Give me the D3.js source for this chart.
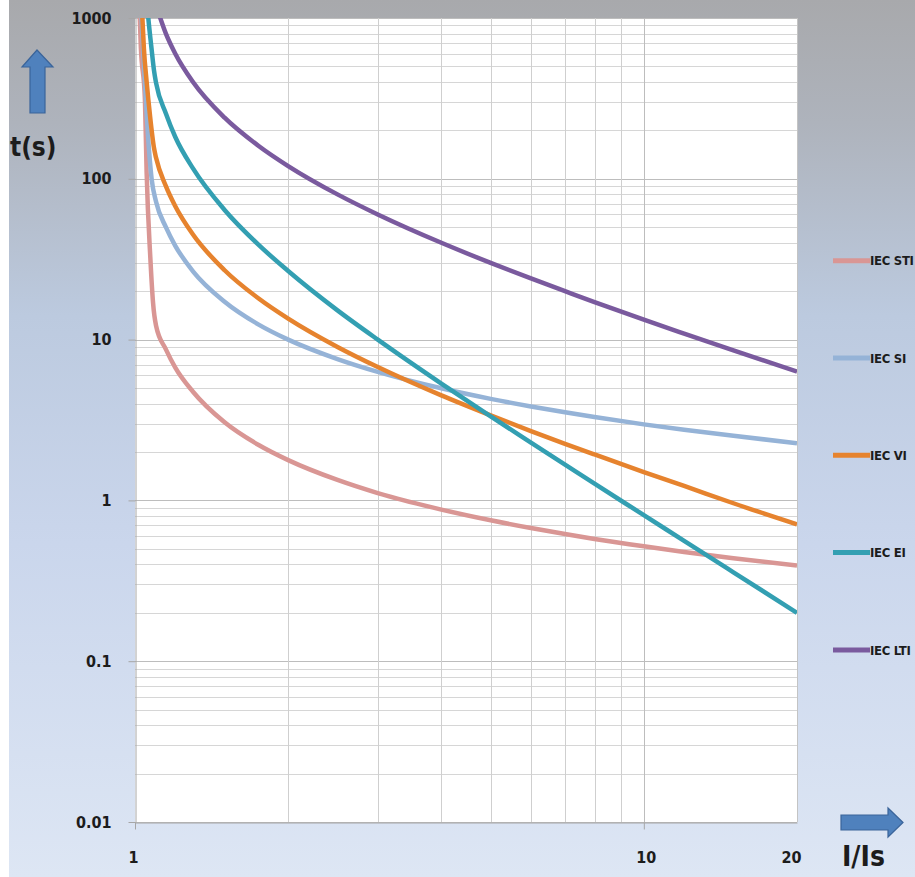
<!DOCTYPE html>
<html>
<head>
<meta charset="utf-8">
<script src="https://cdn.jsdelivr.net/npm/d3@7"></script>
<style>
  html, body { margin: 0; padding: 0; background: #fff; }
  svg { display: block; }
  .tick text { font-family: "Liberation Sans Narrow", "DejaVu Sans Condensed", sans-serif; font-weight: bold; fill: #1c1c1c; }
</style>
</head>
<body>
<svg id="chart" width="915" height="877"></svg>
<script>
// I/Is steps shared by every curve from 1.1 upward
const currentSteps = [1.1, 1.15, 1.2, 1.3, 1.5, 1.75, 2, 2.5, 3, 4, 5, 6, 7, 8, 10, 12, 15, 20];

// steep part of each curve just above I/Is = 1, as [I/Is, t]
const stiHead = [[1.017, 1500], [1.027, 650], [1.046, 309], [1.054, 110], [1.072, 32], [1.085, 17]];
const siHead = [[1.02, 2000], [1.03, 1000], [1.045, 420], [1.06, 190], [1.078, 100]];
const viHead = [[1.025, 1500], [1.034, 1000], [1.041, 648], [1.054, 402], [1.07, 249], [1.09, 155]];
const eiHead = [[1.05, 1500], [1.062, 1000], [1.078, 640], [1.09, 470]];
const ltiHead = [];

// t(s) read at currentSteps
const stiTimes = [12.2, 8.7, 6.7, 4.74, 3.06, 2.21, 1.78, 1.34, 1.11, 0.877, 0.752, 0.673, 0.618, 0.576, 0.518, 0.478, 0.437, 0.393];
const siTimes = [72, 50, 38.3, 26.6, 17.2, 12.4, 10.0, 7.57, 6.3, 4.98, 4.28, 3.84, 3.53, 3.3, 2.97, 2.75, 2.52, 2.27];
const viTimes = [135, 90, 67.5, 45, 27, 18, 13.5, 9, 6.75, 4.5, 3.38, 2.7, 2.25, 1.93, 1.5, 1.23, 0.96, 0.71];
const eiTimes = [395, 255, 182, 116, 64, 38.8, 26.7, 15.2, 10, 5.33, 3.33, 2.29, 1.67, 1.27, 0.81, 0.56, 0.357, 0.2];
const ltiTimes = [1200, 800, 600, 400, 240, 160, 120, 80, 60, 40, 30, 24, 20, 17.1, 13.3, 10.9, 8.57, 6.32];

const seriesNames = ["IEC STI", "IEC SI", "IEC VI", "IEC EI", "IEC LTI"];
const seriesColors = ["#d99694", "#95b3d7", "#e6832e", "#339fb2", "#7a5a9e"];

const yTicks = [0.01, 0.1, 1, 10, 100, 1000];
const xTicks = [1, 10, 20];

const svg = d3.select("#chart");
const W = 915, H = 877;
const plot = { left: 135, right: 797, top: 18, bottom: 822 };
const narrow = "\"Liberation Sans Narrow\", \"DejaVu Sans Condensed\", sans-serif";

const x = d3.scaleLog().domain([1, 20]).range([plot.left, plot.right]);
const y = d3.scaleLog().domain([0.01, 1000]).range([plot.bottom, plot.top]);

// background gradient
const defs = svg.append("defs");
const grad = defs.append("linearGradient").attr("id", "bg").attr("x1", 0).attr("y1", 0).attr("x2", 0).attr("y2", 1);
[[0, "#a8a9ac"], [0.14, "#aeb3bc"], [0.36, "#bccadf"], [0.62, "#cad6ec"], [1, "#dde6f4"]].forEach(([o, c]) => {
  grad.append("stop").attr("offset", o).attr("stop-color", c);
});
defs.append("clipPath").attr("id", "plotClip").append("rect")
  .attr("x", plot.left).attr("y", plot.top)
  .attr("width", plot.right - plot.left).attr("height", plot.bottom - plot.top);

svg.append("rect").attr("x", 9).attr("y", 0).attr("width", W - 9).attr("height", H).attr("fill", "url(#bg)");
svg.append("rect").attr("x", plot.left).attr("y", plot.top)
  .attr("width", plot.right - plot.left).attr("height", plot.bottom - plot.top).attr("fill", "#fff");

// grid
const hValues = [];
yTicks.slice(0, -1).forEach((d) => { for (let m = 1; m < 10; m += 1) hValues.push(d * m); });
hValues.push(1000);
const vValues = [2, 3, 4, 5, 6, 7, 8, 9, 10];

const grid = svg.append("g");
grid.selectAll(".h").data(hValues).join("line")
  .attr("x1", plot.left).attr("x2", plot.right)
  .attr("y1", (d) => Math.round(y(d)) + 0.5).attr("y2", (d) => Math.round(y(d)) + 0.5)
  .attr("stroke", (d) => (yTicks.includes(d) ? "#bdbdbd" : "#d6d6d6")).attr("stroke-width", 1);
grid.selectAll(".v").data(vValues).join("line")
  .attr("y1", plot.top).attr("y2", plot.bottom)
  .attr("x1", (d) => Math.round(x(d)) + 0.5).attr("x2", (d) => Math.round(x(d)) + 0.5)
  .attr("stroke", (d) => (d === 10 ? "#bdbdbd" : "#cfcfcf")).attr("stroke-width", 1);
svg.append("line").attr("x1", plot.right + 0.5).attr("x2", plot.right + 0.5)
  .attr("y1", plot.top).attr("y2", plot.bottom).attr("stroke", "#c4c4c4");

// axes
const yAxis = svg.append("g").attr("transform", `translate(${plot.left + 0.5},0)`)
  .call(d3.axisLeft(y).tickValues(yTicks).tickFormat(d3.format("~g")).tickSize(7).tickPadding(17).tickSizeOuter(0));
yAxis.selectAll("text").attr("font-size", 16);
yAxis.select(".domain").attr("stroke", "#a6a6a6");
yAxis.selectAll(".tick line").attr("stroke", "#a6a6a6");

const xAxis = svg.append("g").attr("transform", `translate(0,${plot.bottom + 0.5})`)
  .call(d3.axisBottom(x).tickValues(xTicks).tickFormat(d3.format("d")).tickSize(7).tickPadding(22).tickSizeOuter(0));
xAxis.selectAll("text").attr("font-size", 16).attr("dx", (d) => (d === 20 ? -6 : d === 1 ? -2 : 2));
xAxis.select(".domain").attr("stroke", "#a6a6a6");
xAxis.selectAll(".tick line").attr("stroke", (d) => (d === 20 ? "none" : "#a6a6a6"));

// curves
const timesList = [stiTimes, siTimes, viTimes, eiTimes, ltiTimes];
const headList = [stiHead, siHead, viHead, eiHead, ltiHead];
const series = seriesNames.map((name, i) => ({
  name,
  color: seriesColors[i],
  points: headList[i].concat(currentSteps.map((c, j) => [c, timesList[i][j]])),
}));

const line = d3.line().x((d) => x(d[0])).y((d) => y(d[1])).curve(d3.curveMonotoneX);
svg.append("g").attr("clip-path", "url(#plotClip)")
  .selectAll("path").data(series).join("path")
  .attr("d", (d) => line(d.points))
  .attr("fill", "none")
  .attr("stroke", (d) => d.color)
  .attr("stroke-width", 4.5)
  .attr("stroke-linejoin", "round");

// legend
const legend = svg.append("g").selectAll("g").data(series).join("g")
  .attr("transform", (d, i) => `translate(833,${260.7 + i * 97.3})`);
legend.append("line").attr("x1", 0).attr("x2", 37).attr("stroke", (d) => d.color).attr("stroke-width", 5);
legend.append("text").attr("x", 37).attr("dy", "0.36em")
  .attr("font-family", narrow)
  .attr("font-weight", "bold").attr("font-size", 13).attr("fill", "#1c1c1c")
  .attr("letter-spacing", -0.3)
  .text((d) => d.name);

// axis titles and arrows
const arrowFill = "#4f81bd", arrowStroke = "#3a649a";
svg.append("path")
  .attr("d", "M37,50 L53,67 L45,67 L45,113 L30,113 L30,67 L22,67 Z")
  .attr("fill", arrowFill).attr("stroke", arrowStroke).attr("stroke-width", 1.2);
svg.append("path")
  .attr("d", "M903,822.5 L888,808 L888,815 L841,815 L841,830 L888,830 L888,837 Z")
  .attr("fill", arrowFill).attr("stroke", arrowStroke).attr("stroke-width", 1.2);

svg.append("text").attr("x", 10).attr("y", 156)
  .attr("font-family", narrow)
  .attr("font-weight", "bold").attr("font-size", 26).attr("fill", "#1c1c1c").text("t(s)");
svg.append("text").attr("x", 842).attr("y", 866)
  .attr("font-family", narrow)
  .attr("font-weight", "bold").attr("font-size", 28).attr("fill", "#1c1c1c").text("I/Is");
</script>
</body>
</html>
